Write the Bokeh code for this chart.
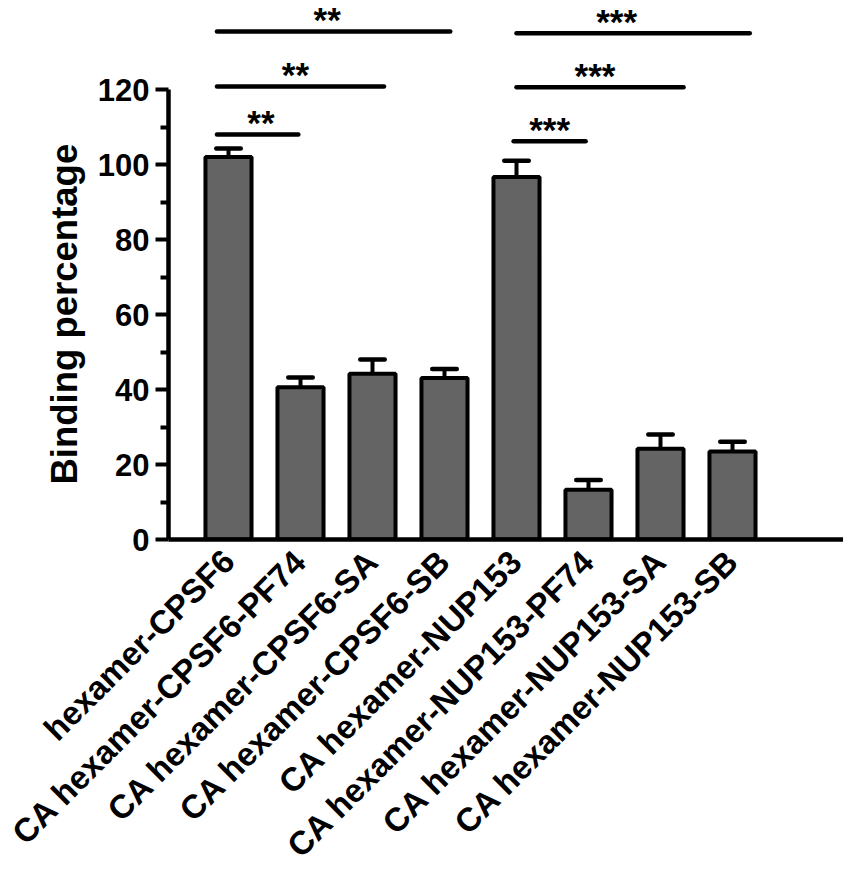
import math
from bokeh.plotting import figure
from bokeh.models import ColumnDataSource, FixedTicker, Range1d, Title
from bokeh.embed import file_html
from bokeh.resources import INLINE
from bokeh.core.properties import value

# ---- data ----
categories = [
    "hexamer-CPSF6",
    "CA hexamer-CPSF6-PF74",
    "CA hexamer-CPSF6-SA",
    "CA hexamer-CPSF6-SB",
    "CA hexamer-NUP153",
    "CA hexamer-NUP153-PF74",
    "CA hexamer-NUP153-SA",
    "CA hexamer-NUP153-SB",
]
means = [102.0, 40.6, 44.2, 43.1, 96.7, 13.3, 24.2, 23.5]
errors = [2.3, 2.6, 3.8, 2.4, 4.3, 2.6, 3.8, 2.6]

y_ticks = [0, 20, 40, 60, 80, 100, 120]
y_minor_ticks = [10, 30, 50, 70, 90, 110]

# significance brackets (start/end in bar-index units, height in %)
sig_start = [0.84, 0.84, 0.84, 4.96, 5.00, 5.00]
sig_end = [1.97, 3.16, 4.08, 5.96, 7.32, 8.24]
sig_height = [108.0, 120.8, 135.5, 106.2, 120.6, 135.0]
sig_text_x = [1.45, 1.93, 2.37, 5.46, 6.09, 6.39]
sig_labels = ["**", "**", "**", "***", "***", "***"]

FONT = "Liberation Sans"

xs = list(range(1, len(categories) + 1))
caps = [m + e for m, e in zip(means, errors)]
src = ColumnDataSource(dict(
    x=xs, mean=means, cap=caps,
    xl=[x - 0.17 for x in xs], xr=[x + 0.17 for x in xs],
))
sig_src = ColumnDataSource(dict(
    x0=sig_start, x1=sig_end, y=sig_height, tx=sig_text_x, label=sig_labels,
))

p = figure(
    width=843, height=880,
    x_range=Range1d(1 - 60 / 72, 8 + 111 / 72),
    y_range=Range1d(0, 539 / 3.75),
    output_backend="svg", toolbar_location=None,
    min_border_left=168, min_border_right=0,
    min_border_top=0, min_border_bottom=341,
)
p.grid.visible = False
p.outline_line_color = None
p.background_fill_color = "white"
p.border_fill_color = "white"

# bars
p.vbar(x="x", top="mean", bottom=0, width=0.64, source=src,
       fill_color="#646464", line_color="black", line_width=4)
# error bars
p.segment(x0="x", y0="mean", x1="x", y1="cap", source=src,
          line_color="black", line_width=4)
p.segment(x0="xl", y0="cap", x1="xr", y1="cap", source=src,
          line_color="black", line_width=4.5, line_cap="round")

# significance
p.segment(x0="x0", y0="y", x1="x1", y1="y", source=sig_src,
          line_color="black", line_width=4.5, line_cap="round")
p.text(x="tx", y="y", text="label", source=sig_src,
       text_align="center", text_baseline="alphabetic",
       text_font=value(FONT), text_font_style="bold",
       text_font_size="35px", text_color="black", y_offset=-12)

# y axis
yax = p.yaxis[0]
yax.ticker = FixedTicker(ticks=y_ticks, minor_ticks=y_minor_ticks)
yax.bounds = (0, 120)
yax.axis_line_width = 4.5
yax.axis_line_color = "black"
yax.major_tick_line_width = 4
yax.minor_tick_line_width = 4
yax.major_tick_out = 13
yax.major_tick_in = 0
yax.minor_tick_out = 8
yax.minor_tick_in = 0
yax.major_label_text_font = FONT
yax.major_label_text_font_style = "bold"
yax.major_label_text_font_size = "31px"
yax.major_label_text_color = "black"
yax.major_label_standoff = 6

# x axis
xax = p.xaxis[0]
xax.ticker = FixedTicker(ticks=xs, minor_ticks=[])
xax.major_label_overrides = {x: c for x, c in zip(xs, categories)}
xax.major_label_orientation = math.pi / 4
xax.major_tick_out = 0
xax.major_tick_in = 0
xax.minor_tick_out = 0
xax.minor_tick_in = 0
xax.axis_line_width = 4.5
xax.axis_line_color = "black"
xax.major_label_text_font = FONT
xax.major_label_text_font_style = "bold"
xax.major_label_text_font_size = "33px"
xax.major_label_text_color = "black"
xax.major_label_standoff = 16

# y axis title (placed as a side title so it can be shifted along the axis)
p.add_layout(Title(
    text="Binding percentage", align="left", offset=55,
    text_font=FONT, text_font_style="bold", text_font_size="36.5px",
    text_color="black", standoff=20,
), "left")

open("out.html", "w").write(file_html(p, INLINE))
